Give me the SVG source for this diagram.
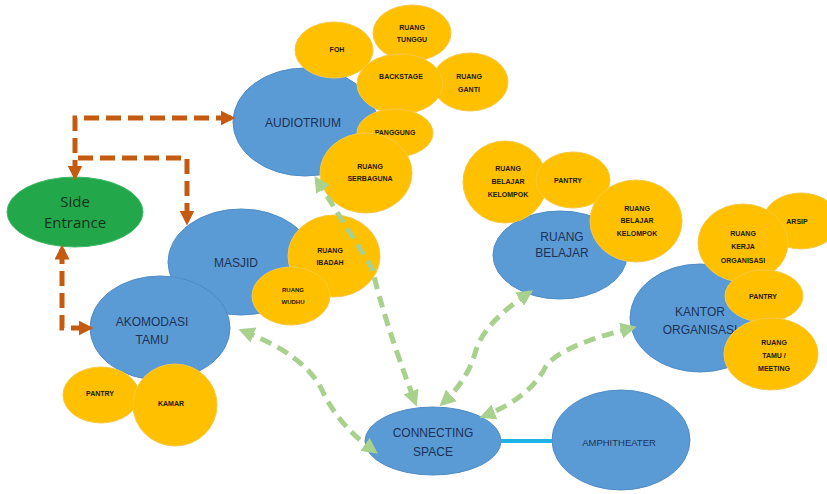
<svg xmlns="http://www.w3.org/2000/svg" width="827" height="494" viewBox="0 0 827 494">
  <defs>
    <style>
      .main { fill: #5b9bd5; stroke: #4f8cc6; stroke-width: 1; }
      .sub { fill: #ffc000; stroke: #f7c844; stroke-width: 1; }
      .entry { fill: #22a84b; stroke: #3fb865; stroke-width: 1; }
      .lbl { font-family: "Liberation Sans", Arial, sans-serif; fill: #1b3256; font-size: 12px; text-anchor: middle; }
      .sl { font-family: "Liberation Sans", Arial, sans-serif; fill: #241a00; font-size: 7px; font-weight: bold; text-anchor: middle; }
      .el { font-family: "Open Sans", "Liberation Sans", sans-serif; fill: #12301a; font-size: 15px; text-anchor: middle; }
      .brown { fill: none; stroke: #c55a11; stroke-width: 5; stroke-dasharray: 15 7; }
      .green { fill: none; stroke: #a9d18e; stroke-width: 5; stroke-dasharray: 12 7; }
      .link { stroke: #1fb2e6; stroke-width: 4; }
    </style>
    <marker id="ah-brown" viewBox="0 0 10 10" refX="7" refY="5" markerWidth="3" markerHeight="3" orient="auto-start-reverse">
      <path d="M0,0 L10,5 L0,10 z" fill="#c55a11"/>
    </marker>
    <marker id="ah-green" viewBox="0 0 10 10" refX="7" refY="5" markerWidth="3.2" markerHeight="3.2" orient="auto-start-reverse">
      <path d="M0,0 L10,5 L0,10 z" fill="#a9d18e"/>
    </marker>
  </defs>
  <rect width="827" height="494" fill="#ffffff"/>

  <!-- Audiotrium cluster -->
  <g id="audiotrium">
    <ellipse class="main" cx="305" cy="122" rx="72" ry="54"/>
    <text class="lbl" x="303" y="127">AUDIOTRIUM</text>
  </g>
  <g id="foh">
    <ellipse class="sub" cx="334" cy="50" rx="39" ry="28"/>
    <text class="sl" x="337" y="52">FOH</text>
  </g>
  <g id="ruang-tunggu">
    <ellipse class="sub" cx="412" cy="33" rx="39" ry="28"/>
    <text class="sl" x="412" y="30">RUANG</text>
    <text class="sl" x="412" y="42">TUNGGU</text>
  </g>
  <g id="ruang-ganti">
    <ellipse class="sub" cx="470" cy="82" rx="38" ry="29"/>
    <text class="sl" x="469" y="79">RUANG</text>
    <text class="sl" x="469" y="92">GANTI</text>
  </g>
  <g id="backstage">
    <ellipse class="sub" cx="400" cy="84" rx="43" ry="30"/>
    <text class="sl" x="401" y="79">BACKSTAGE</text>
  </g>
  <g id="panggung">
    <ellipse class="sub" cx="395" cy="133" rx="38" ry="24"/>
    <text class="sl" x="395" y="135">PANGGUNG</text>
  </g>
  <g id="ruang-serbaguna">
    <ellipse class="sub" cx="366" cy="173" rx="46" ry="40"/>
    <text class="sl" x="370" y="169">RUANG</text>
    <text class="sl" x="370" y="181">SERBAGUNA</text>
  </g>

  <!-- Side entrance -->
  <g id="side-entrance">
    <ellipse class="entry" cx="75" cy="212" rx="68" ry="35"/>
    <text class="el" x="75" y="207">Side</text>
    <text class="el" x="75" y="228">Entrance</text>
  </g>

  <!-- Masjid cluster -->
  <g id="masjid">
    <ellipse class="main" cx="241" cy="262" rx="73" ry="53"/>
    <text class="lbl" x="236" y="267">MASJID</text>
  </g>
  <g id="ruang-ibadah">
    <ellipse class="sub" cx="334" cy="256" rx="46" ry="41"/>
    <text class="sl" x="330" y="253">RUANG</text>
    <text class="sl" x="330" y="265">IBADAH</text>
  </g>
  <g id="ruang-wudhu">
    <ellipse class="sub" cx="291" cy="296" rx="39" ry="29"/>
    <text class="sl" x="293" y="292" style="font-size:6px">RUANG</text>
    <text class="sl" x="293" y="304" style="font-size:6px">WUDHU</text>
  </g>

  <!-- Akomodasi tamu cluster -->
  <g id="akomodasi-tamu">
    <ellipse class="main" cx="160" cy="328" rx="70" ry="52"/>
    <text class="lbl" x="152" y="326">AKOMODASI</text>
    <text class="lbl" x="152" y="344">TAMU</text>
  </g>
  <g id="pantry-akomodasi">
    <ellipse class="sub" cx="101" cy="395" rx="38" ry="28"/>
    <text class="sl" x="100" y="396">PANTRY</text>
  </g>
  <g id="kamar">
    <ellipse class="sub" cx="175" cy="405" rx="42" ry="41"/>
    <text class="sl" x="171" y="406">KAMAR</text>
  </g>

  <!-- Ruang belajar cluster -->
  <g id="ruang-belajar">
    <ellipse class="main" cx="560" cy="255" rx="67" ry="44"/>
    <text class="lbl" x="562" y="241">RUANG</text>
    <text class="lbl" x="562" y="257">BELAJAR</text>
  </g>
  <g id="ruang-belajar-kelompok-1">
    <ellipse class="sub" cx="505" cy="182" rx="42" ry="41"/>
    <text class="sl" x="508" y="171">RUANG</text>
    <text class="sl" x="508" y="184">BELAJAR</text>
    <text class="sl" x="508" y="197">KELOMPOK</text>
  </g>
  <g id="pantry-belajar">
    <ellipse class="sub" cx="573" cy="180" rx="37" ry="28"/>
    <text class="sl" x="568" y="183">PANTRY</text>
  </g>
  <g id="ruang-belajar-kelompok-2">
    <ellipse class="sub" cx="636" cy="221" rx="46" ry="41"/>
    <text class="sl" x="637" y="211">RUANG</text>
    <text class="sl" x="637" y="223">BELAJAR</text>
    <text class="sl" x="637" y="236">KELOMPOK</text>
  </g>

  <!-- Kantor organisasi cluster -->
  <g id="kantor-organisasi">
    <ellipse class="main" cx="700" cy="318" rx="70" ry="54"/>
    <text class="lbl" x="700" y="316">KANTOR</text>
    <text class="lbl" x="700" y="334">ORGANISASI</text>
  </g>
  <g id="arsip">
    <ellipse class="sub" cx="801" cy="221" rx="38" ry="28"/>
    <text class="sl" x="797" y="224">ARSIP</text>
  </g>
  <g id="ruang-kerja-organisasi">
    <ellipse class="sub" cx="743" cy="243" rx="45" ry="39"/>
    <text class="sl" x="743" y="236">RUANG</text>
    <text class="sl" x="743" y="249">KERJA</text>
    <text class="sl" x="743" y="263">ORGANISASI</text>
  </g>
  <g id="pantry-kantor">
    <ellipse class="sub" cx="764" cy="296" rx="39" ry="26"/>
    <text class="sl" x="763" y="299">PANTRY</text>
  </g>
  <g id="ruang-tamu-meeting">
    <ellipse class="sub" cx="771" cy="354" rx="47" ry="36"/>
    <text class="sl" x="774" y="345">RUANG</text>
    <text class="sl" x="774" y="358">TAMU /</text>
    <text class="sl" x="774" y="371">MEETING</text>
  </g>

  <!-- Connecting space and amphitheater -->
  <g id="connecting-space">
    <ellipse class="main" cx="433" cy="441" rx="68" ry="34"/>
    <text class="lbl" x="433" y="437">CONNECTING</text>
    <text class="lbl" x="433" y="456">SPACE</text>
  </g>
  <g id="amphitheater">
    <ellipse class="main" cx="621" cy="440" rx="69" ry="50"/>
    <text class="lbl" x="619" y="446" style="font-size:9.5px">AMPHITHEATER</text>
  </g>

  <!-- Connectors -->
  <g id="connectors">
    <line class="link" x1="501" y1="441" x2="552" y2="441"/>
    <path class="brown" d="M 231,118 H 75 V 176" marker-start="url(#ah-brown)" marker-end="url(#ah-brown)"/>
    <path class="brown" d="M 78,158 H 187 V 221" marker-end="url(#ah-brown)"/>
    <path class="brown" d="M 62,249 V 328 H 89" marker-start="url(#ah-brown)" marker-end="url(#ah-brown)"/>
    <path class="green" d="M 317,180 L 372,268 Q 384,320 415,402" marker-start="url(#ah-green)" marker-end="url(#ah-green)"/>
    <path class="green" d="M 243,331 Q 305,355 322,390 Q 338,425 374,451" marker-start="url(#ah-green)" marker-end="url(#ah-green)"/>
    <path class="green" d="M 529,293 Q 485,322 476,350 Q 468,380 443,403" marker-start="url(#ah-green)" marker-end="url(#ah-green)"/>
    <path class="green" d="M 632,328 Q 562,345 546,366 Q 530,398 484,416" marker-start="url(#ah-green)" marker-end="url(#ah-green)"/>
  </g>
</svg>
